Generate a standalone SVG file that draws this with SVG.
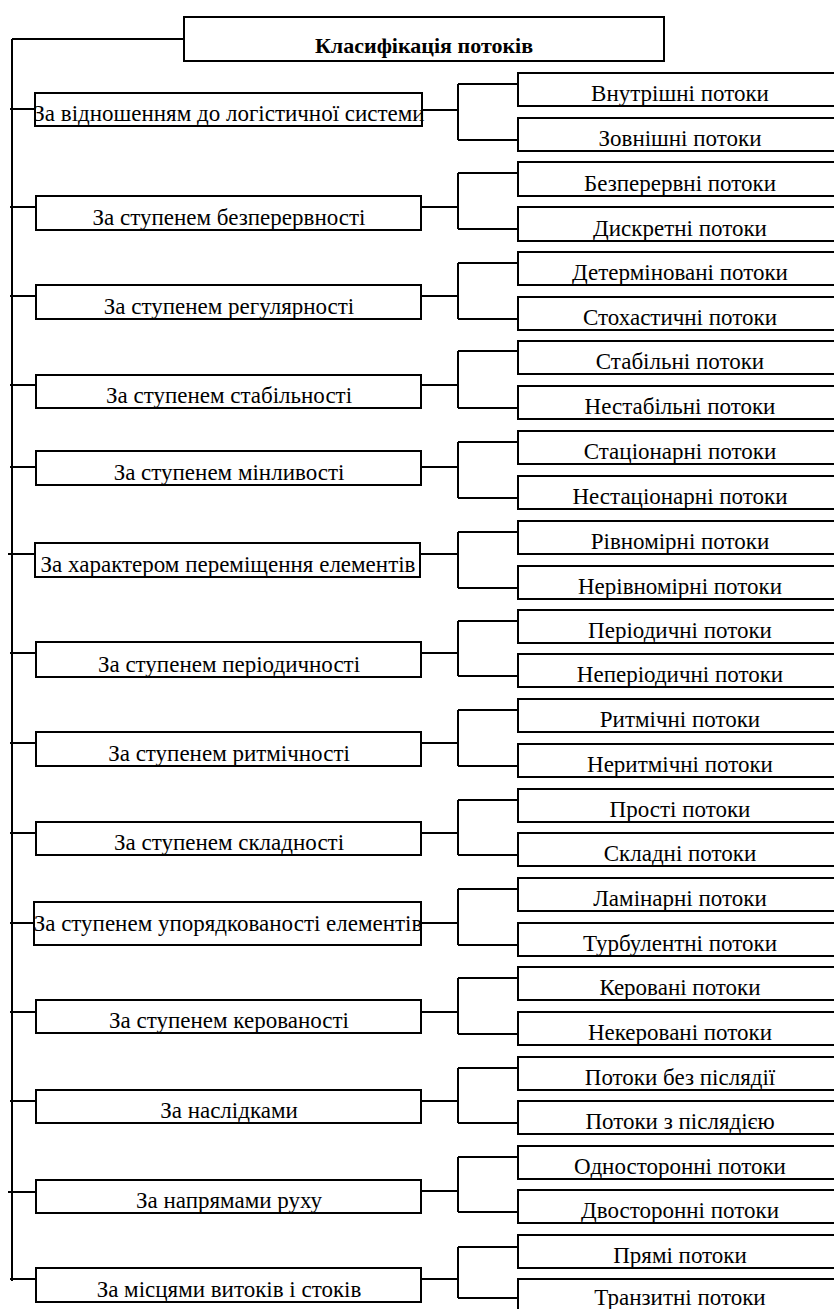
<svg xmlns="http://www.w3.org/2000/svg" width="834" height="1309" viewBox="0 0 834 1309">
  <style>
    .box { fill: #ffffff; stroke: #000000; stroke-width: 2; }
    .ln { fill: none; stroke: #000000; stroke-width: 2; }
    text { font-family: 'Liberation Serif', 'DejaVu Serif', serif; fill: #000000; text-anchor: middle; }
    .t { font-size: 23px; }
    .title { font-size: 22px; font-weight: bold; }
  </style>

  <!-- trunk and all connector lines -->
  <g id="connectors">
    <path class="ln" d="M12 39 H184 M12 39 V1281"/>
    <!-- group 1 -->
    <path class="ln" d="M10 109 H35 M422 110 H458 M458 84 V140 M458 84 H518 M458 140 H518"/>
    <!-- group 2 -->
    <path class="ln" d="M10 207 H36 M421 207 H458 M458 173 V229 M458 173 H518 M458 229 H518"/>
    <!-- group 3 -->
    <path class="ln" d="M10 296 H36 M421 296 H458 M458 263 V319 M458 263 H518 M458 319 H518"/>
    <!-- group 4 -->
    <path class="ln" d="M10 385 H36 M421 385 H458 M458 351 V408 M458 351 H518 M458 408 H518"/>
    <!-- group 5 -->
    <path class="ln" d="M10 467 H36 M421 467 H458 M458 442 V498 M458 442 H518 M458 498 H518"/>
    <!-- group 6 -->
    <path class="ln" d="M8 554 H35 M420 554 H458 M458 532 V588 M458 532 H518 M458 588 H518"/>
    <!-- group 7 -->
    <path class="ln" d="M10 653 H36 M421 653 H458 M458 621 V676 M458 621 H518 M458 676 H518"/>
    <!-- group 8 -->
    <path class="ln" d="M10 743 H36 M421 743 H458 M458 710 V766 M458 710 H518 M458 766 H518"/>
    <!-- group 9 -->
    <path class="ln" d="M10 833 H36 M421 833 H458 M458 800 V855 M458 800 H518 M458 855 H518"/>
    <!-- group 10 -->
    <path class="ln" d="M10 923 H34 M421 923 H458 M458 889 V945 M458 889 H518 M458 945 H518"/>
    <!-- group 11 -->
    <path class="ln" d="M10 1012 H36 M421 1012 H458 M458 978 V1034 M458 978 H518 M458 1034 H518"/>
    <!-- group 12 -->
    <path class="ln" d="M10 1101 H36 M421 1101 H458 M458 1068 V1123 M458 1068 H518 M458 1123 H518"/>
    <!-- group 13 -->
    <path class="ln" d="M8 1192 H36 M421 1191 H458 M458 1157 V1212 M458 1157 H518 M458 1212 H518"/>
    <!-- group 14 -->
    <path class="ln" d="M10 1279 H36 M421 1279 H458 M458 1247 V1298 M458 1247 H518 M458 1298 H518"/>
  </g>

  <!-- root -->
  <g id="root">
    <rect class="box" x="184" y="17" width="480" height="44"/>
    <text class="title" x="424" y="53">Класифікація потоків</text>
  </g>

  <!-- criteria (left column) -->
  <g id="c1"><rect class="box" x="35" y="93" width="387" height="33"/><text class="t" x="229" y="121">За відношенням до логістичної системи</text></g>
  <g id="c2"><rect class="box" x="36" y="196" width="385" height="34"/><text class="t" x="229" y="225">За ступенем безперервності</text></g>
  <g id="c3"><rect class="box" x="36" y="285" width="385" height="34"/><text class="t" x="229" y="314">За ступенем регулярності</text></g>
  <g id="c4"><rect class="box" x="36" y="375" width="385" height="33"/><text class="t" x="229" y="403">За ступенем стабільності</text></g>
  <g id="c5"><rect class="box" x="36" y="451" width="385" height="34"/><text class="t" x="229" y="480">За ступенем мінливості</text></g>
  <g id="c6"><rect class="box" x="35" y="543" width="385" height="34"/><text class="t" x="228" y="572">За характером переміщення елементів</text></g>
  <g id="c7"><rect class="box" x="36" y="642" width="385" height="35"/><text class="t" x="229" y="672">За ступенем періодичності</text></g>
  <g id="c8"><rect class="box" x="36" y="732" width="385" height="34"/><text class="t" x="229" y="761">За ступенем ритмічності</text></g>
  <g id="c9"><rect class="box" x="36" y="822" width="385" height="33"/><text class="t" x="229" y="850">За ступенем складності</text></g>
  <g id="c10"><rect class="box" x="34" y="902" width="387" height="43"/><text class="t" x="228" y="931">За ступенем упорядкованості елементів</text></g>
  <g id="c11"><rect class="box" x="36" y="1000" width="385" height="33"/><text class="t" x="229" y="1028">За ступенем керованості</text></g>
  <g id="c12"><rect class="box" x="36" y="1090" width="385" height="33"/><text class="t" x="229" y="1118">За наслідками</text></g>
  <g id="c13"><rect class="box" x="36" y="1180" width="385" height="33"/><text class="t" x="229" y="1208">За напрямами руху</text></g>
  <g id="c14"><rect class="box" x="36" y="1268" width="385" height="34"/><text class="t" x="229" y="1297">За місцями витоків і стоків</text></g>

  <!-- flow types (right column) -->
  <g id="f1a"><rect class="box" x="518" y="73" width="330" height="33"/><text class="t" x="680" y="101">Внутрішні потоки</text></g>
  <g id="f1b"><rect class="box" x="518" y="118" width="330" height="33"/><text class="t" x="680" y="146">Зовнішні потоки</text></g>
  <g id="f2a"><rect class="box" x="518" y="162" width="330" height="34"/><text class="t" x="680" y="191">Безперервні потоки</text></g>
  <g id="f2b"><rect class="box" x="518" y="207" width="330" height="34"/><text class="t" x="680" y="236">Дискретні потоки</text></g>
  <g id="f3a"><rect class="box" x="518" y="252" width="330" height="33"/><text class="t" x="680" y="280">Детерміновані потоки</text></g>
  <g id="f3b"><rect class="box" x="518" y="297" width="330" height="33"/><text class="t" x="680" y="325">Стохастичні потоки</text></g>
  <g id="f4a"><rect class="box" x="518" y="341" width="330" height="33"/><text class="t" x="680" y="369">Стабільні потоки</text></g>
  <g id="f4b"><rect class="box" x="518" y="386" width="330" height="33"/><text class="t" x="680" y="414">Нестабільні потоки</text></g>
  <g id="f5a"><rect class="box" x="518" y="431" width="330" height="33"/><text class="t" x="680" y="459">Стаціонарні потоки</text></g>
  <g id="f5b"><rect class="box" x="518" y="476" width="330" height="33"/><text class="t" x="680" y="504">Нестаціонарні потоки</text></g>
  <g id="f6a"><rect class="box" x="518" y="521" width="330" height="33"/><text class="t" x="680" y="549">Рівномірні потоки</text></g>
  <g id="f6b"><rect class="box" x="518" y="566" width="330" height="33"/><text class="t" x="680" y="594">Нерівномірні потоки</text></g>
  <g id="f7a"><rect class="box" x="518" y="610" width="330" height="33"/><text class="t" x="680" y="638">Періодичні потоки</text></g>
  <g id="f7b"><rect class="box" x="518" y="654" width="330" height="33"/><text class="t" x="680" y="682">Неперіодичні потоки</text></g>
  <g id="f8a"><rect class="box" x="518" y="699" width="330" height="33"/><text class="t" x="680" y="727">Ритмічні потоки</text></g>
  <g id="f8b"><rect class="box" x="518" y="744" width="330" height="33"/><text class="t" x="680" y="772">Неритмічні потоки</text></g>
  <g id="f9a"><rect class="box" x="518" y="789" width="330" height="33"/><text class="t" x="680" y="817">Прості потоки</text></g>
  <g id="f9b"><rect class="box" x="518" y="833" width="330" height="33"/><text class="t" x="680" y="861">Складні потоки</text></g>
  <g id="f10a"><rect class="box" x="518" y="878" width="330" height="33"/><text class="t" x="680" y="906">Ламінарні потоки</text></g>
  <g id="f10b"><rect class="box" x="518" y="923" width="330" height="33"/><text class="t" x="680" y="951">Турбулентні потоки</text></g>
  <g id="f11a"><rect class="box" x="518" y="967" width="330" height="33"/><text class="t" x="680" y="995">Керовані потоки</text></g>
  <g id="f11b"><rect class="box" x="518" y="1012" width="330" height="33"/><text class="t" x="680" y="1040">Некеровані потоки</text></g>
  <g id="f12a"><rect class="box" x="518" y="1057" width="330" height="33"/><text class="t" x="680" y="1085">Потоки без післядії</text></g>
  <g id="f12b"><rect class="box" x="518" y="1101" width="330" height="33"/><text class="t" x="680" y="1129">Потоки з післядією</text></g>
  <g id="f13a"><rect class="box" x="518" y="1146" width="330" height="33"/><text class="t" x="680" y="1174">Односторонні потоки</text></g>
  <g id="f13b"><rect class="box" x="518" y="1190" width="330" height="33"/><text class="t" x="680" y="1218">Двосторонні потоки</text></g>
  <g id="f14a"><rect class="box" x="518" y="1235" width="330" height="33"/><text class="t" x="680" y="1263">Прямі потоки</text></g>
  <g id="f14b"><rect class="box" x="518" y="1279" width="330" height="33"/><text class="t" x="680" y="1305">Транзитні потоки</text></g>
</svg>
